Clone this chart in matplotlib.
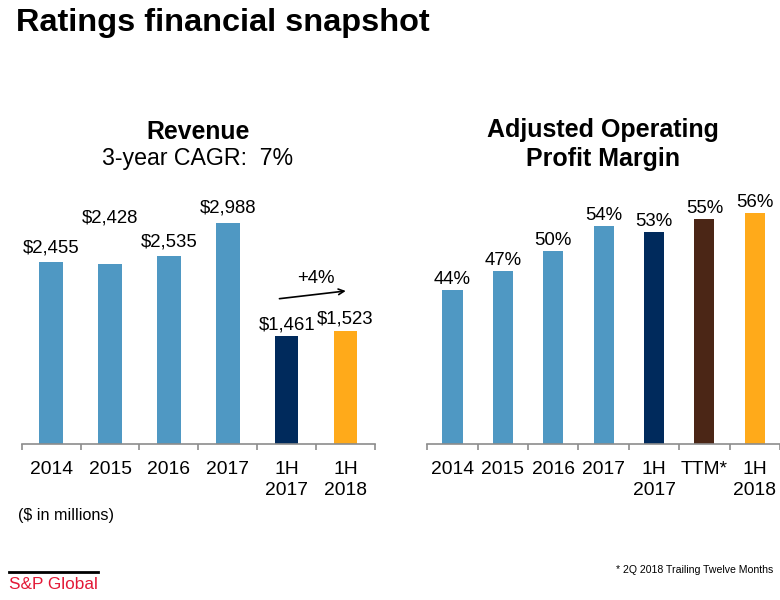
import matplotlib
matplotlib.use('Agg')
from matplotlib import pyplot as plt
from matplotlib.lines import Line2D
import numpy as np

plt.rcParams['font.family'] = ['Liberation Sans', 'DejaVu Sans']

# data
rev_cats = ['2014', '2015', '2016', '2017', '1H\n2017', '1H\n2018']
rev_vals = [2455, 2428, 2535, 2988, 1461, 1523]
rev_labels = ['$2,455', '$2,428', '$2,535', '$2,988', '$1,461', '$1,523']

mgn_cats = ['2014', '2015', '2016', '2017', '1H\n2017', 'TTM*', '1H\n2018']
mgn_vals = [44, 47, 50, 54, 53, 55, 56]

BLUE = '#4f98c3'
NAVY = '#002a5c'
ORANGE = '#ffaa1a'
BROWN = '#4b2616'
AXIS = '#8c8c8c'

rev_colors = [BLUE, BLUE, BLUE, BLUE, NAVY, ORANGE]
mgn_colors = [BLUE, BLUE, BLUE, BLUE, NAVY, BROWN, ORANGE]
# label offsets above bar top (points)
rev_offs = [10, 33, 10, 11, 8, 9]


def style_axis(ax, n):
    for s in ['top', 'right', 'left']:
        ax.spines[s].set_visible(False)
    ax.spines['bottom'].set_color(AXIS)
    ax.spines['bottom'].set_linewidth(1.2)
    ax.set_yticks([])
    ax.set_xlim(-0.5, n - 0.5)
    ax.set_xticks(np.arange(n))
    ax.set_xticks(np.arange(n + 1) - 0.5, minor=True)
    ax.tick_params(axis='x', which='major', length=0, pad=12, labelsize=13.9)
    ax.tick_params(axis='x', which='minor', length=4, width=1.2, color=AXIS)
    for t in ax.get_xticklabels():
        t.set_linespacing(1.3)


def main():
    fig = plt.figure(figsize=(7.8, 6), dpi=100)

    fig.text(0.02, 1 - 23 / 600, 'Ratings financial snapshot', fontsize=23.4,
             fontweight='bold', va='center', ha='left')

    # Revenue
    ax = fig.add_axes([0.0278, 0.26, 0.453, 0.4067])
    n = len(rev_vals)
    x = np.arange(n)
    ax.bar(x, rev_vals, width=0.4, color=rev_colors)
    ax.set_ylim(0, 3297)
    ax.set_xticks(x)
    ax.set_xticklabels(rev_cats)
    style_axis(ax, n)
    for i in range(n):
        ax.annotate(rev_labels[i], (x[i], rev_vals[i]), xytext=(0, rev_offs[i]),
                    textcoords='offset points', ha='center', va='center',
                    fontsize=13.4, clip_on=False)
    ax.annotate('', xy=(5.05, 2072), xytext=(3.83, 1959),
                arrowprops=dict(arrowstyle='->', color='black', lw=1.2))
    ax.text(4.5, 2239, '+4%', ha='center', va='center', fontsize=13.4)

    fig.text(0.2538, 1 - 131.7 / 600, 'Revenue', fontsize=17.8,
             fontweight='bold', ha='center', va='center')
    fig.text(0.2532, 1 - 158.3 / 600, '3-year CAGR:  7%', fontsize=16.7,
             ha='center', va='center')
    fig.text(18 / 780, 1 - 515.7 / 600, '($ in millions)', fontsize=11.6,
             ha='left', va='center')

    # Margin
    bx = fig.add_axes([0.5478, 0.26, 0.4522, 0.4067])
    n = len(mgn_vals)
    x = np.arange(n)
    bx.bar(x, mgn_vals, width=0.4, color=mgn_colors)
    bx.set_ylim(20, 58)
    bx.set_xticks(x)
    bx.set_xticklabels(mgn_cats)
    style_axis(bx, n)
    for i in range(n):
        bx.annotate('%d%%' % mgn_vals[i], (x[i], mgn_vals[i]), xytext=(0, 7.5),
                    textcoords='offset points', ha='center', va='center',
                    fontsize=13.4, clip_on=False)

    fig.text(603.3 / 780, 1 - 130 / 600, 'Adjusted Operating', fontsize=18,
             fontweight='bold', ha='center', va='center')
    fig.text(603.3 / 780, 1 - 159.3 / 600, 'Profit Margin', fontsize=18,
             fontweight='bold', ha='center', va='center')

    # footer
    fig.add_artist(Line2D([9 / 780, 98.3 / 780], [1 - 572.3 / 600, 1 - 572.3 / 600],
                          color='black', lw=2))
    fig.text(9 / 780, 1 - 584.3 / 600, 'S&P Global', fontsize=12.4,
             color='#e31937', ha='left', va='center')
    fig.text(773 / 780, 1 - 570 / 600, '* 2Q 2018 Trailing Twelve Months',
             fontsize=7.6, ha='right', va='center')

    fig.savefig('out.png', dpi=100)


if __name__ == '__main__':
    main()
